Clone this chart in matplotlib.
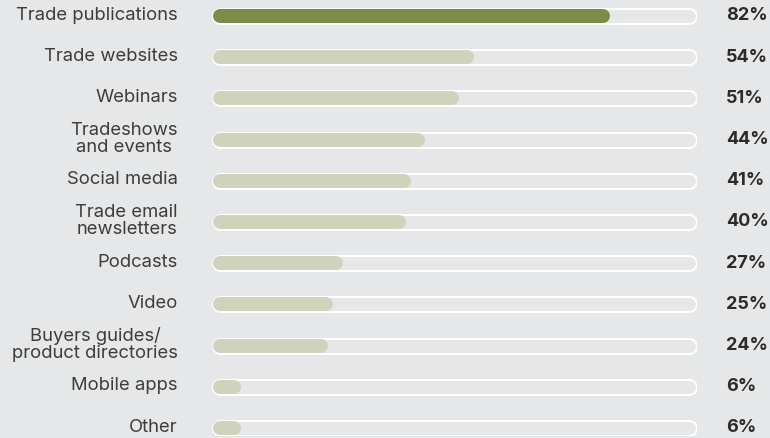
import matplotlib.pyplot as plt

categories = ['Trade publications', 'Trade websites', 'Webinars', 'Tradeshows\nand events',
              'Social media', 'Trade email\nnewsletters', 'Podcasts', 'Video',
              'Buyers guides/\nproduct directories', 'Mobile apps', 'Other']
values = [82, 54, 51, 44, 41, 40, 27, 25, 24, 6, 6]
highlight = [True] + [False] * 10

BG = '#e6e7e8'
DARK = '#7b8c48'
LIGHT = '#d0d3bc'

W, H, DPI = 770, 438, 100
plt.rcParams['font.family'] = ['Inter', 'DejaVu Sans']

fig = plt.figure(figsize=(W / DPI, H / DPI), dpi=DPI, facecolor=BG)

# axes: x 0..100 spans pixels 212..697, rows spaced evenly from y=16 to y=428
x0, x1 = 212, 697
top_c, bot_c = 16, 428
n = len(categories)
step = (bot_c - top_c) / (n - 1)
m = 0.2
ax_top = top_c - m * step
ax_bot = bot_c + m * step
ax = fig.add_axes([x0 / W, (H - ax_bot) / H, (x1 - x0) / W, (ax_bot - ax_top) / H])
ax.set_facecolor(BG)
ax.set_xlim(0, 100)
ax.set_ylim(n - 1 + m, -m)
ax.axis('off')

px = 100 / (x1 - x0)          # data units per pixel
pt = 72 / DPI                  # points per pixel
track_h, inner_h, bar_h = 17, 13, 14

for i, (v, hl) in enumerate(zip(values, highlight)):
    r = track_h / 2 * px
    ax.plot([r, 100 - r], [i, i], color='white', lw=track_h * pt,
            solid_capstyle='round', zorder=1)
    ax.plot([r + (track_h - inner_h) / 2 * px, 100 - r], [i, i], color=BG,
            lw=inner_h * pt, solid_capstyle='round', zorder=2)
    rb = bar_h / 2 * px
    ax.plot([rb + 1 * px, v - rb], [i, i], color=DARK if hl else LIGHT,
            lw=bar_h * pt, solid_capstyle='round', zorder=3)
    ax.text((178 - x0) * px, i - 0.02, categories[i], ha='right', va='center',
            multialignment='center', fontsize=13.3, color='#3d3d3d',
            linespacing=1.0, clip_on=False)
    ax.text((726 - x0) * px, i, f'{v}%', ha='left', va='center',
            fontsize=13, fontweight='bold', color='#2b2b2b', clip_on=False)

fig.savefig('out.png', dpi=DPI, facecolor=BG)
